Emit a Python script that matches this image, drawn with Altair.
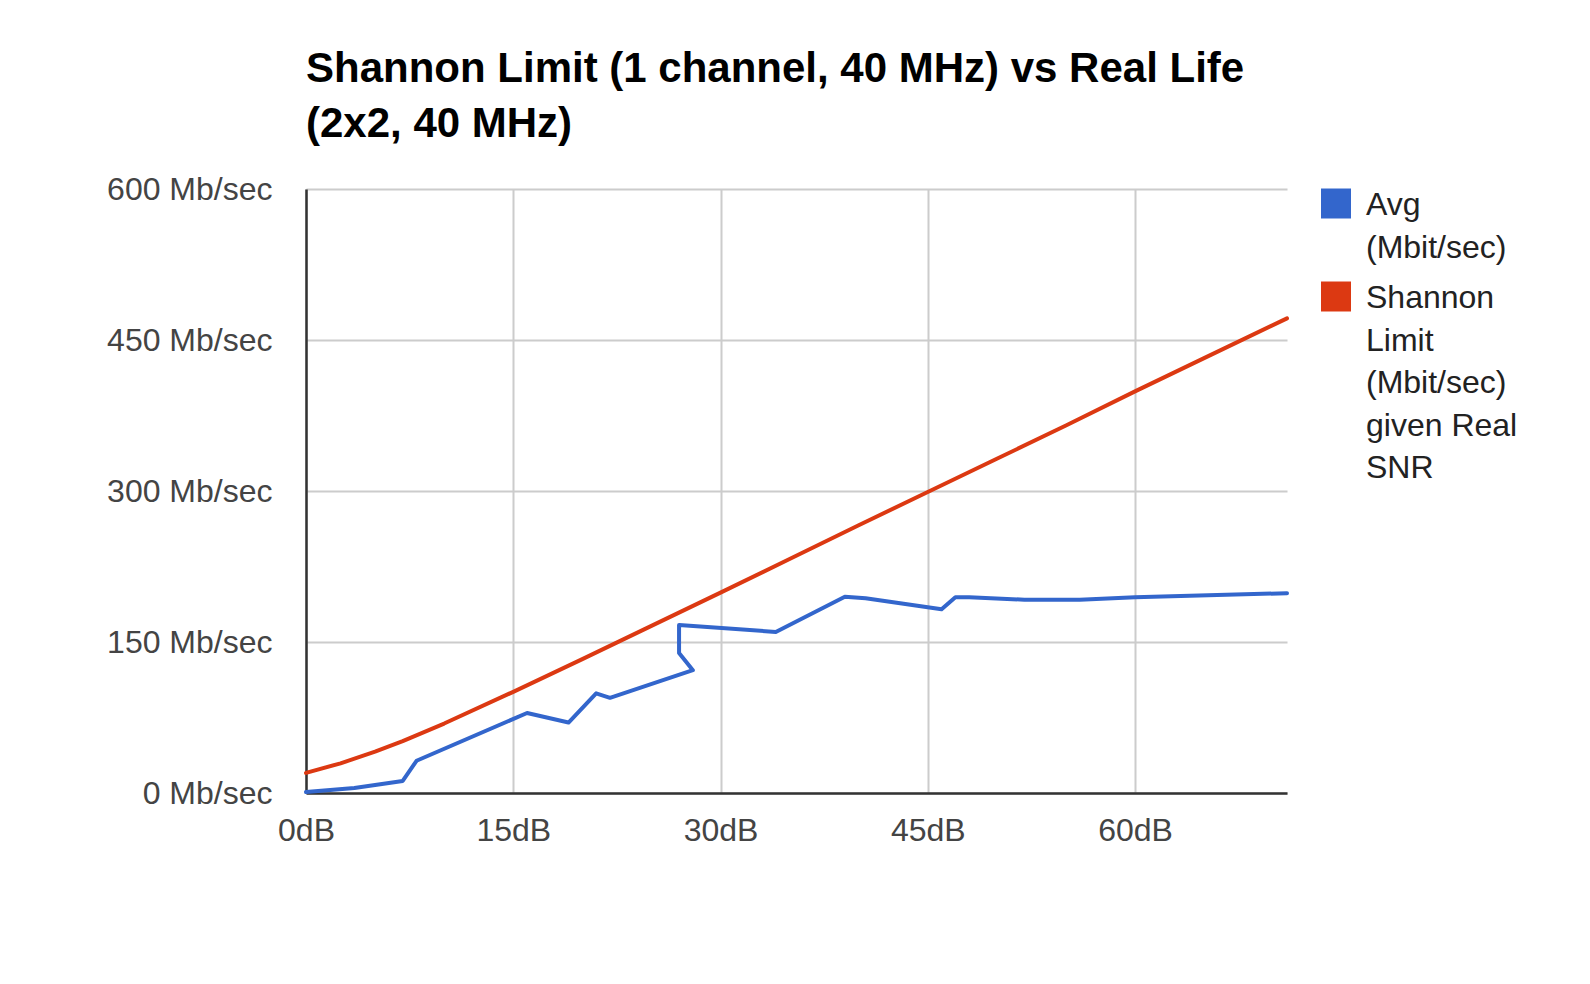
import altair as alt
import pandas as pd

AVG = "Avg (Mbit/sec)"
SHANNON = "Shannon Limit (Mbit/sec) given Real SNR"
BLUE = "#3366cc"
RED = "#dc3912"

# Avg measured throughput (drawn in data order: the line doubles back near 27-28 dB)
snr_avg = [0, 3.5, 7, 8, 16, 19, 21, 22, 28, 27, 27, 34, 39, 40.5, 46, 47, 48, 52, 56, 60, 71]
avg = [1, 5, 12, 32, 79.5, 70, 99, 94.5, 122, 139, 167, 160, 195, 193.5, 182.5, 194.5, 194.5, 192, 192, 194.5, 198.5]

# Shannon limit
snr_shannon = [0, 2.5, 5, 7, 10, 15, 20, 25, 30, 35, 40, 45, 50, 55, 60, 65, 71]
shannon = [20, 29.5, 41, 51.5, 69, 100.5, 133, 166, 199, 232.5, 266, 299, 332, 365, 399, 432, 471.5]

x_ticks = [0, 15, 30, 45, 60]
y_ticks = [0, 150, 300, 450, 600]
title_lines = ["Shannon Limit (1 channel, 40 MHz) vs Real Life", "(2x2, 40 MHz)"]

rows = []
for i, (x, y) in enumerate(zip(snr_avg, avg)):
    rows.append({"snr": x, "rate": y, "series": AVG, "order": i})
for i, (x, y) in enumerate(zip(snr_shannon, shannon)):
    rows.append({"snr": x, "rate": y, "series": SHANNON, "order": i})
df = pd.DataFrame(rows)

FONT = "Liberation Sans"

x_enc = alt.X(
    "snr:Q",
    scale=alt.Scale(domain=[0, 71], nice=False, zero=False),
    axis=alt.Axis(
        values=x_ticks,
        labelExpr="datum.value + 'dB'",
        title=None,
        ticks=False,
        labelPadding=22,
        labelBaseline="top",
        labelFlush=False,
    ),
)
y_enc = alt.Y(
    "rate:Q",
    scale=alt.Scale(domain=[0, 600], nice=False),
    axis=alt.Axis(
        values=y_ticks,
        labelExpr="datum.value + ' Mb/sec'",
        title=None,
        ticks=False,
        labelPadding=34,
        labelFlush=False,
    ),
)
color_scale = alt.Scale(domain=[AVG, SHANNON], range=[BLUE, RED])

legend = alt.Legend(
    title=None,
    orient="none",
    legendX=1028,
    legendY=-15,
    # 30px filled square placed beside the first line of each wrapped label
    symbolType="M-1.8125,-0.09375H0.0625V1.78125H-1.8125Z",
    symbolSize=1024,
    symbolStrokeWidth=0,
    labelFont=FONT,
    labelFontSize=32,
    labelColor="#222222",
    labelOffset=0,
    labelLimit=400,
    labelBaseline="top",
    rowPadding=3,
    padding=0,
    labelExpr=(
        "datum.label == 'Avg (Mbit/sec)' ? ['Avg', '(Mbit/sec)'] : "
        "['Shannon', 'Limit', '(Mbit/sec)', 'given Real', 'SNR']"
    ),
)

# layer that only supplies the filled-square legend (no rows are drawn)
legend_layer = (
    alt.Chart(df)
    .transform_filter("false")
    .mark_point(filled=True, opacity=1)
    .encode(
        x=x_enc,
        y=y_enc,
        color=alt.Color("series:N", scale=color_scale, legend=legend),
    )
)

lines = (
    alt.Chart(df)
    .mark_line(strokeWidth=4, strokeJoin="round", strokeCap="round")
    .encode(
        x=x_enc,
        y=y_enc,
        color=alt.Color("series:N", scale=color_scale),
        order=alt.Order("order:Q"),
    )
)

chart = (
    alt.layer(legend_layer, lines)
    .properties(
        width=981,
        height=604,
        autosize=alt.AutoSizeParams(type="none"),
        padding={"left": 298, "top": 181, "right": 290, "bottom": 180},
        title=alt.TitleParams(
            text=title_lines,
            anchor="start",
            frame="group",
            font=FONT,
            fontSize=42,
            fontWeight="bold",
            color="#000000",
            lineHeight=55,
            offset=27,
        ),
    )
    .configure(background="white", style={"guide-label": alt.MarkConfig(lineHeight=42.6)})
    .configure_view(strokeWidth=0)
    .configure_axis(
        labelFont=FONT,
        labelFontSize=32,
        labelColor="#444444",
        grid=True,
        gridColor="#cccccc",
        gridWidth=2,
        domainColor="#333333",
        domainWidth=2.5,
    )
)

chart.save("out.html", embed_options={"renderer": "svg", "actions": False})
